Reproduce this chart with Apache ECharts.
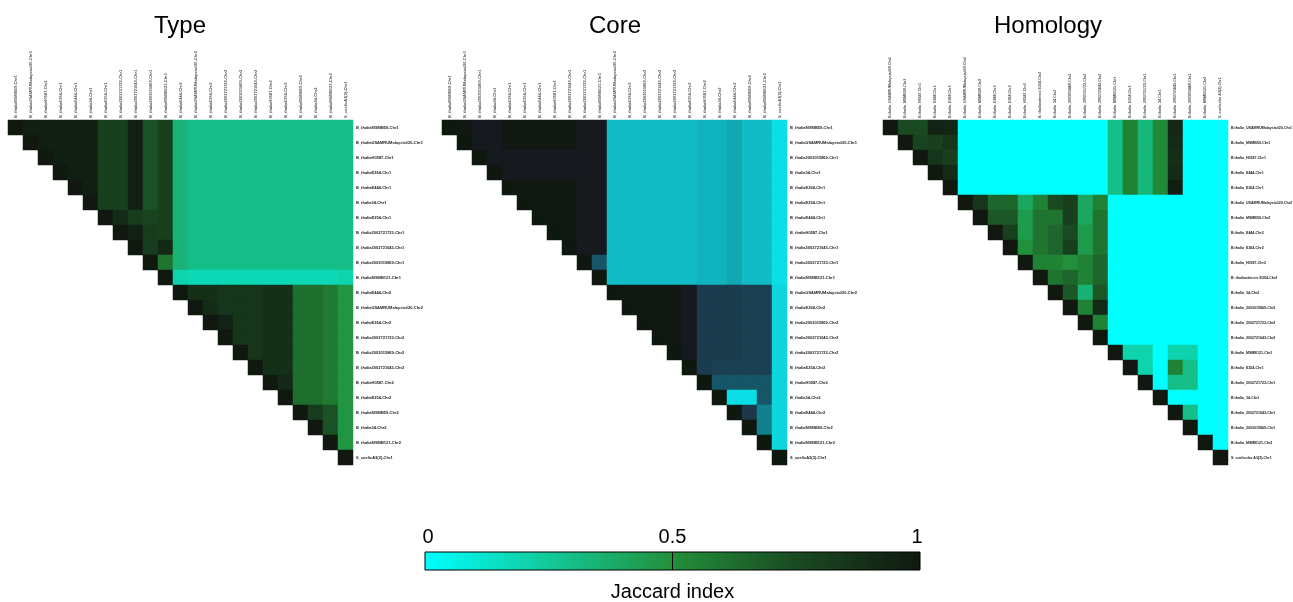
<!DOCTYPE html>
<html><head><meta charset="utf-8">
<script src="https://cdn.jsdelivr.net/npm/echarts@6/dist/echarts.min.js"></script>
<style>html,body{margin:0;padding:0;background:#fff}#c{width:1293px;height:602px}</style>
</head><body><div id="c"></div><script>
const typeLabels = ["B_thaliaMSMB59-Chr1","B_thaliaUSAMRUMalaysia#20-Chr1","B_thaliaH0587-Chr1","B_thaliaE264-Chr1","B_thaliaE444-Chr1","B_thalia34-Chr1","B_thaliaE254-Chr1","B_thalia2002721723-Chr1","B_thalia2002721643-Chr1","B_thalia2003015869-Chr1","B_thaliaMSMB121-Chr1","B_thaliaE444-Chr2","B_thaliaUSAMRUMalaysia#20-Chr2","B_thaliaE264-Chr2","B_thalia2002721723-Chr2","B_thalia2003015869-Chr2","B_thalia2002721643-Chr2","B_thaliaH0587-Chr2","B_thaliaE254-Chr2","B_thaliaMSMB59-Chr2","B_thalia34-Chr2","B_thaliaMSMB121-Chr2","S_coelicA3(2)-Chr1"];
const coreLabels = ["B_thaliaMSMB59-Chr1","B_thaliaUSAMRUMalaysia#20-Chr1","B_thalia2003015869-Chr1","B_thalia34-Chr1","B_thaliaE264-Chr1","B_thaliaE254-Chr1","B_thaliaE444-Chr1","B_thaliaH0587-Chr1","B_thalia2002721643-Chr1","B_thalia2002721723-Chr1","B_thaliaMSMB121-Chr1","B_thaliaUSAMRUMalaysia#20-Chr2","B_thaliaE264-Chr2","B_thalia2003015869-Chr2","B_thalia2002721643-Chr2","B_thalia2002721723-Chr2","B_thaliaE254-Chr2","B_thaliaH0587-Chr2","B_thalia34-Chr2","B_thaliaE444-Chr2","B_thaliaMSMB59-Chr2","B_thaliaMSMB121-Chr2","S_coelicA3(2)-Chr1"];
const homLabels = ["B.thalia_USAMRUMalaysia#20-Chr1","B.thalia_MSMB59-Chr1","B.thalia_H0587-Chr1","B.thalia_E444-Chr1","B.thalia_E264-Chr1","B.thalia_USAMRUMalaysia#20-Chr2","B.thalia_MSMB59-Chr2","B.thalia_E444-Chr2","B.thalia_E264-Chr2","B.thalia_H0587-Chr2","B. thailandensis E254-Chr2","B.thalia_34-Chr2","B.thalia_2003015869-Chr2","B.thalia_2002721723-Chr2","B.thalia_2002721643-Chr2","B.thalia_MSMB121-Chr1","B.thalia_E254-Chr1","B.thalia_2002721723-Chr1","B.thalia_34-Chr1","B.thalia_2002721643-Chr1","B.thalia_2003015869-Chr1","B.thalia_MSMB121-Chr2","S. coelicolor A3(2)-Chr1"];
const colorbarTicks = ["0","0.5","1"];

// upper-triangle rows: row i lists values for columns i..22
const typeValues = [
 [1,.97,.97,.97,.97,.97,.8,.8,.96,.72,.8,.34,.3,.3,.3,.3,.3,.3,.3,.3,.3,.3,.3],
 [1,.97,.97,.97,.97,.8,.8,.96,.72,.8,.34,.3,.3,.3,.3,.3,.3,.3,.3,.3,.3,.3],
 [1,.97,.97,.97,.8,.8,.96,.72,.8,.34,.3,.3,.3,.3,.3,.3,.3,.3,.3,.3,.3],
 [1,.97,.97,.8,.8,.96,.72,.8,.34,.3,.3,.3,.3,.3,.3,.3,.3,.3,.3,.3,.3],
 [1,.97,.8,.8,.96,.72,.8,.34,.3,.3,.3,.3,.3,.3,.3,.3,.3,.3,.3,.3],
 [1,.8,.8,.96,.72,.8,.34,.3,.3,.3,.3,.3,.3,.3,.3,.3,.3,.3,.3,.3],
 [1,.9,.82,.78,.8,.34,.3,.3,.3,.3,.3,.3,.3,.3,.3,.3,.3,.3,.3],
 [1,.96,.82,.8,.34,.3,.3,.3,.3,.3,.3,.3,.3,.3,.3,.3,.3,.3],
 [1,.82,.92,.34,.3,.3,.3,.3,.3,.3,.3,.3,.3,.3,.3,.3,.3],
 [1,.6,.34,.3,.3,.3,.3,.3,.3,.3,.3,.3,.3,.3,.3,.3],
 [1,.2,.18,.18,.18,.18,.18,.18,.18,.18,.18,.18,.2],
 [1,.88,.88,.85,.85,.85,.88,.88,.62,.62,.58,.48],
 [1,.9,.85,.85,.85,.88,.88,.62,.62,.58,.48],
 [1,.95,.85,.85,.88,.88,.62,.62,.58,.48],
 [1,.85,.85,.88,.88,.62,.62,.58,.48],
 [1,.85,.88,.88,.62,.62,.58,.48],
 [1,.88,.88,.62,.62,.58,.48],
 [1,.92,.62,.62,.58,.48],
 [1,.62,.62,.58,.48],
 [1,.82,.72,.48],
 [1,.72,.48],
 [1,.48],
 [1]
];
const coreValues = [
 [1,.97,.9,.9,.97,.97,.97,.97,.97,.9,.9,.25,.25,.25,.25,.25,.25,.28,.28,.33,.25,.25,.12],
 [1,.9,.9,.97,.97,.97,.97,.97,.9,.9,.25,.25,.25,.25,.25,.25,.28,.28,.33,.25,.25,.12],
 [1,.9,.9,.9,.9,.9,.9,.9,.9,.25,.25,.25,.25,.25,.25,.28,.28,.33,.25,.25,.12],
 [1,.9,.9,.9,.9,.9,.9,.9,.25,.25,.25,.25,.25,.25,.28,.28,.33,.25,.25,.12],
 [1,.97,.97,.97,.97,.9,.9,.25,.25,.25,.25,.25,.25,.28,.28,.33,.25,.25,.12],
 [1,.97,.97,.97,.9,.9,.25,.25,.25,.25,.25,.25,.28,.28,.33,.25,.25,.12],
 [1,.97,.97,.9,.9,.25,.25,.25,.25,.25,.25,.28,.28,.33,.25,.25,.12],
 [1,.97,.9,.9,.25,.25,.25,.25,.25,.25,.28,.28,.33,.25,.25,.12],
 [1,.9,.9,.25,.25,.25,.25,.25,.25,.28,.28,.33,.25,.25,.12],
 [1,.55,.25,.25,.25,.25,.25,.25,.28,.28,.33,.25,.25,.12],
 [1,.25,.25,.25,.25,.25,.25,.28,.28,.33,.25,.25,.12],
 [1,.97,.97,.97,.97,.9,.62,.62,.62,.6,.6,.15],
 [1,.97,.97,.97,.9,.62,.62,.62,.6,.6,.15],
 [1,.97,.97,.9,.62,.62,.62,.6,.6,.15],
 [1,.97,.9,.62,.62,.62,.6,.6,.15],
 [1,.9,.62,.62,.62,.6,.6,.15],
 [1,.62,.6,.6,.6,.6,.15],
 [1,.55,.55,.55,.55,.15],
 [1,.12,.12,.55,.15],
 [1,.65,.45,.15],
 [1,.45,.15],
 [1,.15],
 [1]
];
const homValues = [
 [1,.75,.75,.95,.93,0,0,0,0,0,0,0,0,0,0,.3,.55,.33,.52,.92,0,0,0],
 [1,.78,.8,.85,0,0,0,0,0,0,0,0,0,0,.3,.55,.33,.52,.9,0,0,0],
 [1,.85,.8,0,0,0,0,0,0,0,0,0,0,.3,.55,.33,.52,.88,0,0,0],
 [1,.9,0,0,0,0,0,0,0,0,0,0,.3,.55,.33,.52,.9,0,0,0],
 [1,0,0,0,0,0,0,0,0,0,0,.3,.55,.33,.52,.97,0,0,0],
 [1,.85,.65,.65,.4,.55,.75,.8,.4,.55,0,0,0,0,0,0,0,0],
 [1,.7,.7,.45,.6,.6,.8,.4,.6,0,0,0,0,0,0,0,0],
 [1,.8,.45,.6,.65,.75,.45,.6,0,0,0,0,0,0,0,0],
 [1,.5,.6,.65,.8,.45,.6,0,0,0,0,0,0,0,0],
 [1,.55,.55,.5,.55,.65,0,0,0,0,0,0,0,0],
 [1,.6,.65,.55,.65,0,0,0,0,0,0,0,0],
 [1,.7,.35,.7,0,0,0,0,0,0,0,0],
 [1,.55,.9,0,0,0,0,0,0,0,0],
 [1,.55,0,0,0,0,0,0,0,0],
 [1,0,0,0,0,0,0,0,0],
 [1,.2,.2,0,.2,.2,0,0],
 [1,.2,0,.55,.3,0,0],
 [1,0,.3,.3,0,0],
 [1,0,0,0,0],
 [1,.3,0,0],
 [1,0,0],
 [1,0],
 [1]
];

function toCells(vals){const out=[];vals.forEach((row,i)=>row.forEach((v,k)=>out.push([i+k,i,v])));return out;}

const greenRamp = ['#00ffff','#12c99a','#22903a','#1a4a22','#101810'];
const coreRamp = ['#00ffff','#12c8d2','#0e96a2','#1a4052','#1d1a2c','#0f180f'];

const grids=[
 {left:8,top:120,width:345,height:345},
 {left:442,top:120,width:345,height:345},
 {left:883,top:120,width:345,height:345}
].map(g=>Object.assign(g,{containLabel:false,outerBoundsMode:'none'}));
const labelSets=[typeLabels,coreLabels,homLabels];
const valueSets=[typeValues,coreValues,homValues];
const fontSizes=[4,4,3.6];
const ramps=[greenRamp,coreRamp,greenRamp];
const FONT='"Liberation Sans", Arial, sans-serif';
const option={
 animation:false,
 backgroundColor:'#fff',
 grid:grids,
 xAxis:labelSets.map((L,i)=>({type:'category',gridIndex:i,data:L,position:'top',axisLine:{show:false},axisTick:{show:false},splitLine:{show:false},axisLabel:{show:false}})),
 yAxis:labelSets.map((L,i)=>({type:'category',gridIndex:i,data:L,position:'right',inverse:true,axisLine:{show:false},axisTick:{show:false},splitLine:{show:false},
   axisLabel:{margin:3,fontSize:fontSizes[i],fontWeight:'bold',color:'#222',fontFamily:FONT,interval:0,hideOverlap:false}})),
 visualMap:ramps.map((r,i)=>({show:false,seriesIndex:i,min:0,max:1,dimension:2,inRange:{color:r}})),
 series:[],
 graphic:[]
};
valueSets.forEach((V,i)=>option.series.push({type:'heatmap',xAxisIndex:i,yAxisIndex:i,data:toCells(V),itemStyle:{borderWidth:0},emphasis:{disabled:true},silent:true}));
// column labels along the top edge, placed at each category of the x axis
labelSets.forEach((L,i)=>{
 const half=grids[i].height/46;
 option.series.push({type:'scatter',xAxisIndex:i,yAxisIndex:i,silent:true,symbol:'rect',symbolSize:0.01,itemStyle:{color:'transparent'},
  data:L.map((name,j)=>({name:name,value:[j,0]})),
  label:{show:true,formatter:'{b}',position:[0,-(half+2)],rotate:90,align:'left',verticalAlign:'middle',fontSize:fontSizes[i],fontWeight:'bold',color:'#222',fontFamily:FONT}});
});
const titles=[['Type',180],['Core',615],['Homology',1048]];
titles.forEach(t=>option.graphic.push({type:'text',x:t[1],y:14,style:{text:t[0],font:'24px '+FONT,fill:'#000',textAlign:'center',textVerticalAlign:'top'}}));
const cb={x:425,y:552,w:495,h:18};
option.graphic.push({type:'rect',shape:{x:cb.x,y:cb.y,width:cb.w,height:cb.h},style:{fill:new echarts.graphic.LinearGradient(0,0,1,0,greenRamp.map((c,i)=>({offset:i/(greenRamp.length-1),color:c}))),stroke:'#000',lineWidth:1}});
option.graphic.push({type:'line',shape:{x1:cb.x+cb.w/2,y1:cb.y,x2:cb.x+cb.w/2,y2:cb.y+cb.h},style:{stroke:'#000',lineWidth:1}});
colorbarTicks.forEach((t,i)=>option.graphic.push({type:'text',x:cb.x+3+i*(cb.w-6)/2,y:537,style:{text:t,font:'20px '+FONT,fill:'#000',textAlign:'center',textVerticalAlign:'middle'}}));
option.graphic.push({type:'text',x:cb.x+cb.w/2,y:592,style:{text:'Jaccard index',font:'20px '+FONT,fill:'#000',textAlign:'center',textVerticalAlign:'middle'}});
const chart=echarts.init(document.getElementById('c'),null,{renderer:'canvas'});
chart.setOption(option);
</script></body></html>
